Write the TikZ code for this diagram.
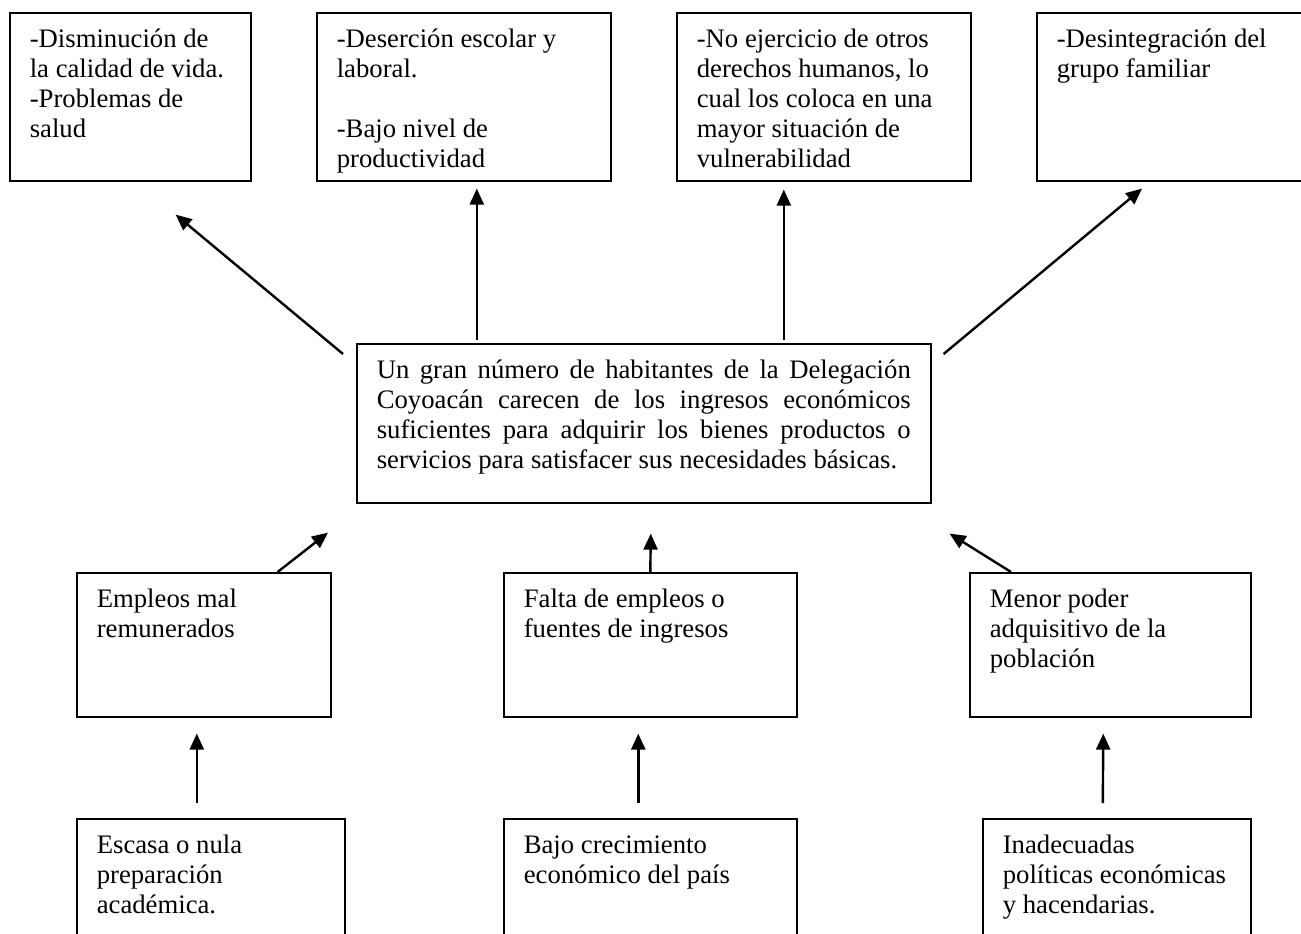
\documentclass[tikz,border=0pt]{standalone}
\usepackage{fontspec}
\setmainfont{Liberation Serif}
\usetikzlibrary{arrows.meta}
\hyphenpenalty=10000
\exhyphenpenalty=10000
\newcommand{\celda}[3]{\parbox[t][#2][t]{#1}{\raggedright\strut #3}}

\begin{document}
\begin{tikzpicture}[
    x=1pt, y=-1pt,
    box/.style={draw, line width=1.6pt, anchor=north west, inner xsep=20pt, inner ysep=14pt,
                font=\fontsize{26.7pt}{30pt}\selectfont},
    arr/.style={-{Triangle[length=16pt, width=14pt]}, line width=2.4pt}
]
\useasboundingbox (0,0) rectangle (1301,934);

\node[box] (ef1) at (9,12) {\celda{201pt}{140pt}{-Disminución de\\ la calidad de vida.\\ -Problemas de\\ salud}};
\node[box] (ef2) at (316,12) {\celda{254pt}{140pt}{-Deserción escolar y\\ laboral.\\[30pt] -Bajo nivel de\\ productividad}};
\node[box] (ef3) at (676,12) {\celda{254pt}{140pt}{-No ejercicio de otros\\ derechos humanos, lo\\ cual los coloca en una\\ mayor situación de\\ vulnerabilidad}};
\node[box] (ef4) at (1036,12) {\celda{254pt}{140pt}{-Desintegración del\\ grupo familiar}};

\node[box] (ctr) at (356,343) {\parbox[t][131pt][t]{534pt}{\strut Un gran número de habitantes de la Delegación\linebreak
    Coyoacán carecen de los ingresos económicos\linebreak
    suficientes para adquirir los bienes productos o\linebreak
    servicios para satisfacer sus necesidades básicas.}};

\node[box] (ca1) at (76,572) {\celda{214pt}{116pt}{Empleos mal\\ remunerados}};
\node[box] (ca2) at (503,572) {\celda{253pt}{116pt}{Falta de empleos o\\ fuentes de ingresos}};
\node[box] (ca3) at (969,572) {\celda{241pt}{116pt}{Menor poder\\ adquisitivo de la\\ población}};

\node[box] (rc1) at (76,818) {\celda{228pt}{112pt}{Escasa o nula\\ preparación\\ académica.}};
\node[box] (rc2) at (503,818) {\celda{253pt}{112pt}{Bajo crecimiento\\ económico del país}};
\node[box] (rc3) at (982,818) {\celda{228pt}{112pt}{Inadecuadas\\ políticas económicas\\ y hacendarias.}};

\draw[arr] ([shift={(-13,11)}]ctr.north west) -- ([shift={(-76,33)}]ef1.south east);
\draw[arr] ([shift={(-167,-3)}]ctr.north) -- ([shift={(13,7)}]ef2.south);
\draw[arr] ([shift={(140,-3)}]ctr.north) -- ([shift={(-40,8)}]ef3.south);
\draw[arr] ([shift={(12,11)}]ctr.north east) -- ([shift={(106,7)}]ef4.south west);

\draw[arr] ([shift={(-54,0)}]ca1.north east) -- ([shift={(-28,29)}]ctr.south west);
\draw[arr] (ca2.north) -- ([shift={(7,30)}]ctr.south);
\draw[arr] ([shift={(42,0)}]ca3.north west) -- ([shift={(18,30)}]ctr.south east);

\draw[arr] ([shift={(-14,-15)}]rc1.north) -- ([shift={(-7,16)}]ca1.south);
\draw[arr] ([shift={(-12,-15)}]rc2.north) -- ([shift={(-12,16)}]ca2.south);
\draw[arr] ([shift={(-14,-15)}]rc3.north) -- ([shift={(-7,16)}]ca3.south);
\end{tikzpicture}
\end{document}
